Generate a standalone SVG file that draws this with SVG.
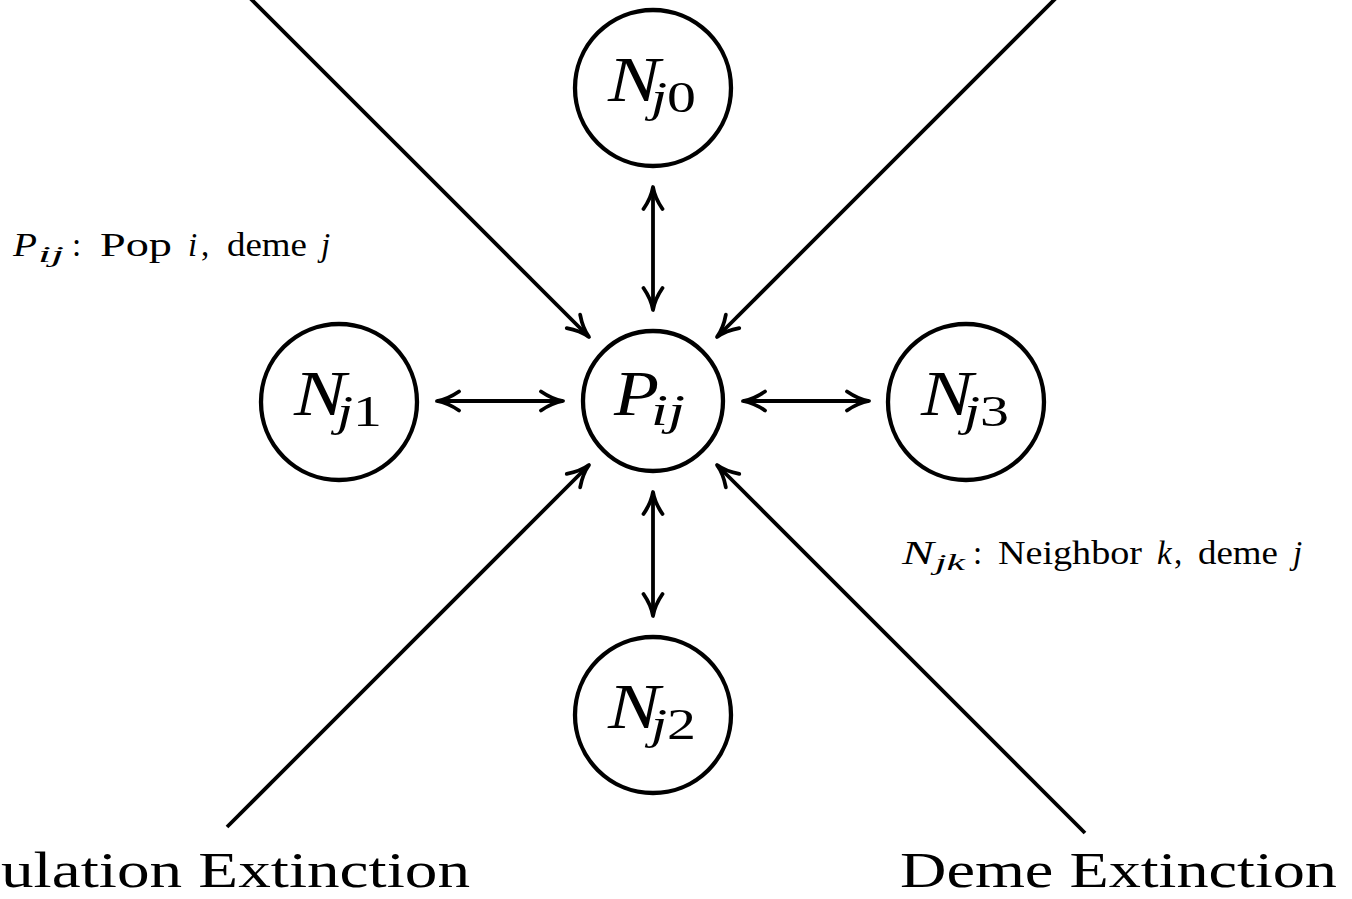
<svg xmlns="http://www.w3.org/2000/svg" width="1352" height="899" viewBox="0 0 1352 899">
  <style>
    .node circle { fill: #fff; stroke: #000; stroke-width: 4.3; }
    .lbl { font-family: "Liberation Serif", "Times New Roman", serif; fill: #000; }
    .it { font-style: italic; }
    .big { font-size: 64px; }
    .sub { font-size: 45px; }
    .note { font-size: 33px; }
    .nsub { font-size: 24px; }
    .title { font-size: 51px; }
    .conn line { stroke: #000; stroke-width: 3.8; fill: none; }
  </style>
  <defs>
    <marker id="ah" viewBox="-25 -12 29 24" refX="0" refY="0" markerWidth="29" markerHeight="24" markerUnits="userSpaceOnUse" orient="auto-start-reverse">
      <path d="M-22,-9.5 C-14,-4 -6,-1 0,0 C-6,1 -14,4 -22,9.5" fill="none" stroke="#000" stroke-width="3.8" stroke-linecap="round" stroke-linejoin="round"/>
    </marker>
  </defs>

  <g id="connectors" class="conn">
    <line x1="232" y1="-20" x2="589" y2="337" marker-end="url(#ah)"/>
    <line x1="1074" y1="-20" x2="717" y2="337" marker-end="url(#ah)"/>
    <line x1="227" y1="827" x2="589" y2="465" marker-end="url(#ah)"/>
    <line x1="1085" y1="833" x2="717" y2="465" marker-end="url(#ah)"/>
    <line x1="653" y1="187" x2="653" y2="310" marker-start="url(#ah)" marker-end="url(#ah)"/>
    <line x1="653" y1="492" x2="653" y2="616" marker-start="url(#ah)" marker-end="url(#ah)"/>
    <line x1="437" y1="401" x2="563" y2="401" marker-start="url(#ah)" marker-end="url(#ah)"/>
    <line x1="743" y1="401" x2="869" y2="401" marker-start="url(#ah)" marker-end="url(#ah)"/>
  </g>

  <g id="node-Pij" class="node">
    <circle cx="653" cy="401" r="70"/>
    <text class="lbl big it" x="614" y="415" textLength="45" lengthAdjust="spacingAndGlyphs">P</text>
    <text class="lbl sub it" x="651" y="425" textLength="34" lengthAdjust="spacingAndGlyphs">ij</text>
  </g>
  <g id="node-Nj0" class="node">
    <circle cx="653" cy="88" r="78"/>
    <text class="lbl big it" x="608" y="101" textLength="52" lengthAdjust="spacingAndGlyphs">N</text>
    <text class="lbl sub" x="651" y="112" textLength="45" lengthAdjust="spacingAndGlyphs"><tspan class="it">j</tspan>0</text>
  </g>
  <g id="node-Nj1" class="node">
    <circle cx="339" cy="402" r="78"/>
    <text class="lbl big it" x="294" y="415" textLength="52" lengthAdjust="spacingAndGlyphs">N</text>
    <text class="lbl sub" x="337" y="426" textLength="45" lengthAdjust="spacingAndGlyphs"><tspan class="it">j</tspan>1</text>
  </g>
  <g id="node-Nj2" class="node">
    <circle cx="653" cy="715" r="78"/>
    <text class="lbl big it" x="608" y="728" textLength="52" lengthAdjust="spacingAndGlyphs">N</text>
    <text class="lbl sub" x="651" y="739" textLength="45" lengthAdjust="spacingAndGlyphs"><tspan class="it">j</tspan>2</text>
  </g>
  <g id="node-Nj3" class="node">
    <circle cx="966" cy="402" r="78"/>
    <text class="lbl big it" x="921" y="415" textLength="52" lengthAdjust="spacingAndGlyphs">N</text>
    <text class="lbl sub" x="964" y="426" textLength="45" lengthAdjust="spacingAndGlyphs"><tspan class="it">j</tspan>3</text>
  </g>

  <g id="legend-P">
    <text class="lbl note it" x="13" y="256" textLength="24" lengthAdjust="spacingAndGlyphs">P</text>
    <text class="lbl nsub it" x="38" y="262" textLength="26" lengthAdjust="spacingAndGlyphs">ij</text>
    <text class="lbl note" x="72" y="256">:</text>
    <text class="lbl note" x="100" y="256" textLength="72" lengthAdjust="spacingAndGlyphs">Pop</text>
    <text class="lbl note it" x="188" y="256">i</text>
    <text class="lbl note" x="201" y="256">,</text>
    <text class="lbl note" x="227" y="256" textLength="80" lengthAdjust="spacingAndGlyphs">deme</text>
    <text class="lbl note it" x="321" y="256">j</text>
  </g>
  <g id="legend-N">
    <text class="lbl note it" x="902" y="564" textLength="32" lengthAdjust="spacingAndGlyphs">N</text>
    <text class="lbl nsub it" x="935" y="570" textLength="30" lengthAdjust="spacingAndGlyphs">jk</text>
    <text class="lbl note" x="973" y="564">:</text>
    <text class="lbl note" x="998" y="564" textLength="144" lengthAdjust="spacingAndGlyphs">Neighbor</text>
    <text class="lbl note it" x="1157" y="564">k</text>
    <text class="lbl note" x="1174" y="564">,</text>
    <text class="lbl note" x="1198" y="564" textLength="80" lengthAdjust="spacingAndGlyphs">deme</text>
    <text class="lbl note it" x="1293" y="564">j</text>
  </g>

  <g id="label-pop-ext">
    <text class="lbl title" x="1" y="887" textLength="469" lengthAdjust="spacingAndGlyphs">ulation Extinction</text>
  </g>
  <g id="label-deme-ext">
    <text class="lbl title" x="900" y="887" textLength="437" lengthAdjust="spacingAndGlyphs">Deme Extinction</text>
  </g>
</svg>
